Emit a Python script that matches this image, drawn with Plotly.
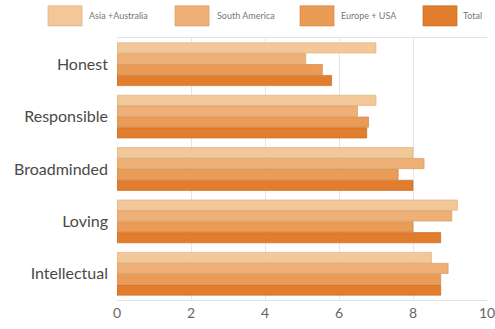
import plotly.graph_objects as go

# Average importance scores by trait and region
traits = ["Honest", "Responsible", "Broadminded", "Loving", "Intellectual"]
regions = ["Asia +Australia", "South America", "Europe + USA", "Total"]
asia_australia = [7.0, 7.0, 8.0, 9.2, 8.5]
south_america = [5.1, 6.5, 8.3, 9.05, 8.95]
europe_usa = [5.55, 6.8, 7.6, 8.0, 8.75]
total = [5.8, 6.75, 8.0, 8.75, 8.75]
tick_values = [0, 2, 4, 6, 8, 10]

series = [asia_australia, south_america, europe_usa, total]
colors = ["#F3C898", "#EEB076", "#EA9C57", "#E17D2D"]
edges = ["#D9AA78", "#D39559", "#CC813E", "#C2661E"]

fig = go.Figure()
for name, vals, col, edge in zip(regions, series, colors, edges):
    fig.add_trace(go.Bar(
        y=traits, x=vals, name=name, orientation="h",
        marker=dict(color=col, line=dict(color=edge, width=0.6)),
        showlegend=False,
    ))

# Legend drawn as large swatches with labels across the top, above the plot area
swatch_x = [-0.1865, 0.1568, 0.4946, 0.827]
swatch_w = 0.092
label_x = [-0.082, 0.265, 0.600, 0.930]
for col, edge, sx in zip(colors, edges, swatch_x):
    fig.add_shape(type="rect", xref="paper", yref="paper",
                  x0=sx, x1=sx + swatch_w, y0=1.046, y1=1.123,
                  fillcolor=col, line=dict(color=edge, width=0.6))
for name, lx in zip(regions, label_x):
    fig.add_annotation(text=name, xref="paper", yref="paper", x=lx, y=1.085,
                       xanchor="left", yanchor="middle", showarrow=False,
                       font=dict(size=9, color="#777", family="Lato"))

fig.update_layout(
    width=495, height=329,
    margin=dict(l=117, r=8, t=38, b=29),
    paper_bgcolor="white", plot_bgcolor="white",
    barmode="group", bargap=0.17, bargroupgap=0.06,
    font=dict(family="Lato", color="#444"),
)
fig.update_xaxes(range=[0, 10], tickvals=tick_values, ticktext=[str(v) for v in tick_values],
                 showgrid=True, gridcolor="#E6E6E6", gridwidth=1,
                 showline=True, linecolor="#E3E3E3", mirror=True,
                 zeroline=False, tickfont=dict(size=14, color="#666"), ticks="",
                 automargin=False, ticklabeloverflow="allow")
fig.update_yaxes(autorange="reversed", showline=False, ticks="",
                 tickfont=dict(size=16, color="#4a4a4a"), ticklabelstandoff=8,
                 automargin=False)

fig.write_html("out.html")
